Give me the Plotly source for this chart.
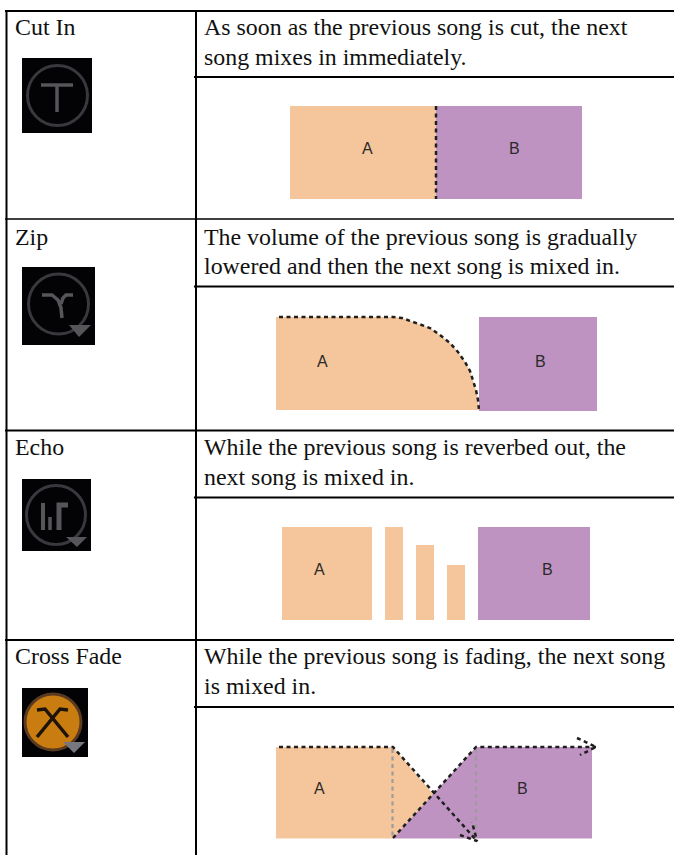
import plotly.graph_objects as go

PEACH = "#f5c69b"
PURPLE = "#be93c1"
DARK = "#1f1f1f"
GRAY = "#9c9c9c"

# Grid lines of the table: x0, x1, y, width
grid_h = [[5, 674, 11, 2], [5, 674, 219, 1.5], [5, 674, 430.5, 2], [5, 674, 640, 2],
          [194, 674, 77, 2], [194, 674, 286.5, 2], [194, 674, 497.5, 2], [194, 674, 707, 2]]
grid_v = [[6.5, 11, 855], [196, 11, 855]]

# Cell texts
names = ["Cut In", "Zip", "Echo", "Cross Fade"]
name_y = [27, 237, 447, 656]
desc_1 = ["As soon as the previous song is cut, the next",
          "The volume of the previous song is gradually",
          "While the previous song is reverbed out, the",
          "While the previous song is fading, the next song"]
desc_2 = ["song mixes in immediately.",
          "lowered and then the next song is mixed in.",
          "next song is mixed in.",
          "is mixed in."]
desc_y1 = [27, 237, 447, 656]
desc_y2 = [57, 266, 477, 686]

# Filled diagram areas
zip_x = [393, 402, 410, 420, 430, 440, 450, 458, 465, 470, 473, 476, 478, 479]
zip_y = [317, 318, 321, 324, 328, 335, 343, 352, 362, 371, 380, 390, 400, 410]
peach_polys = [
    ([290, 436, 436, 290], [106, 106, 199, 199]),
    ([276] + zip_x + [276], [317] + zip_y + [410]),
    ([282, 372, 372, 282], [527, 527, 620, 620]),
    ([385, 403, 403, 385], [527, 527, 620, 620]),
    ([416, 434, 434, 416], [545, 545, 620, 620]),
    ([447, 465, 465, 447], [565, 565, 620, 620]),
    ([276, 393, 434, 393, 276], [747, 747, 795, 838.5, 838.5]),
]
purple_polys = [
    ([436, 582, 582, 436], [106, 106, 199, 199]),
    ([479, 597, 597, 479], [317, 317, 411, 411]),
    ([478, 590, 590, 478], [527, 527, 620, 620]),
    ([393, 476, 592, 592, 393], [838.5, 747, 747, 838.5, 838.5]),
]

# Dotted curves on the diagrams
dark_lines = [
    ([436, 436], [106, 199]),
    ([279] + zip_x, [317] + zip_y),
    ([279, 393, 477], [747, 747, 841]),
    ([393, 476, 596], [838, 747, 747]),
    ([460, 477, 472], [835, 841, 822]),
    ([577, 596, 580], [738, 747, 755]),
]
gray_lines = [([392.5, 392.5], [749, 836]), ([476, 476], [749, 836])]

# Diagram labels
label_x = [367, 514, 322, 540, 319, 547, 319, 522]
label_y = [148, 148, 361, 361, 569, 569, 788, 788]
label_t = ["A", "B", "A", "B", "A", "B", "A", "B"]

# Icons
icon_boxes = [([22, 92], [58, 133]), ([22, 95], [267, 345]), ([22, 91], [479, 551]), ([22, 88], [688, 757])]
circle_x = [57.5, 58.5, 56, 53]
circle_y = [95.5, 304, 515, 722]
circle_size = [60, 60, 59, 56]
circle_line = ["#38383d", "#38383d", "#38383d", "#5a3a20"]
circle_fill = ["rgba(0,0,0,0)", "rgba(0,0,0,0)", "rgba(0,0,0,0)", "#c97c10"]
icon_strokes = [
    ([41, 73], [85, 85]), ([57, 57], [85, 112]),
    ([42, 52, 58, 61, 62], [295, 295, 300, 308, 318]), ([61, 63, 66, 73], [304, 298, 295, 295]),
    ([43, 43], [503, 530]), ([50, 50], [517, 530]), ([59, 59, 68], [530, 505, 505]),
    ([37, 45, 68], [710, 709, 737]), ([68, 60, 37], [710, 709, 737]),
]
stroke_color = ["#56565a"] * 7 + ["#1c1408"] * 2
stroke_width = [3.5, 3.5, 3.5, 3.5, 4, 3.5, 5, 3.5, 3.5]
icon_tris = [
    ([69, 91, 79], [325, 325, 337], "#56565a"),
    ([66, 87, 77], [537, 537, 547], "#56565a"),
    ([63, 85, 74], [742, 742, 753], "#77787f"),
]

fig = go.Figure()

def poly(xs, ys, color):
    fig.add_trace(go.Scatter(x=list(xs), y=list(ys), mode="lines", fill="toself", fillcolor=color,
                             line=dict(width=0), hoverinfo="skip"))

for xs, ys in peach_polys:
    poly(xs, ys, PEACH)
for xs, ys in purple_polys:
    poly(xs, ys, PURPLE)
for xs, ys in gray_lines:
    fig.add_trace(go.Scatter(x=xs, y=ys, mode="lines", line=dict(color=GRAY, width=2.2, dash="4px 3.5px")))
for xs, ys in dark_lines:
    fig.add_trace(go.Scatter(x=xs, y=ys, mode="lines", line=dict(color=DARK, width=2.5, dash="4px 3.5px")))

for x0, x1, y, w in grid_h:
    fig.add_trace(go.Scatter(x=[x0, x1], y=[y, y], mode="lines", line=dict(color="black", width=w)))
for x, y0, y1 in grid_v:
    fig.add_trace(go.Scatter(x=[x, x], y=[y0, y1], mode="lines", line=dict(color="black", width=2)))

for (xr, yr) in icon_boxes:
    poly([xr[0], xr[1], xr[1], xr[0]], [yr[0], yr[0], yr[1], yr[1]], "#030306")
fig.add_trace(go.Scatter(x=circle_x, y=circle_y, mode="markers",
                         marker=dict(size=circle_size, color=circle_fill, opacity=1,
                                     line=dict(color=circle_line, width=3))))
for (xs, ys), c, w in zip(icon_strokes, stroke_color, stroke_width):
    fig.add_trace(go.Scatter(x=xs, y=ys, mode="lines", line=dict(color=c, width=w)))
for xs, ys, c in icon_tris:
    poly(xs, ys, c)

SERIF = "Liberation Serif"
def text(x, y, s, size, fam=SERIF, anchor="left", color="#111111"):
    fig.add_annotation(x=x, y=y, text=s, showarrow=False, xanchor=anchor, yanchor="middle",
                       font=dict(family=fam, size=size, color=color), xref="x", yref="y",
                       borderpad=0, borderwidth=0)

for n, y in zip(names, name_y):
    text(15, y, n, 23.9)
for t, y in zip(desc_1, desc_y1):
    text(204, y, t, 23.9)
for t, y in zip(desc_2, desc_y2):
    text(204, y, t, 23.9)
for x, y, t in zip(label_x, label_y, label_t):
    text(x, y, t, 16, fam="Liberation Sans", anchor="center", color="#2a2a2a")

fig.update_layout(width=674, height=855, margin=dict(l=0, r=0, t=0, b=0), showlegend=False,
                  plot_bgcolor="white", paper_bgcolor="white",
                  xaxis=dict(range=[0, 674], visible=False, fixedrange=True),
                  yaxis=dict(range=[855, 0], visible=False, fixedrange=True))
fig.write_html("out.html", config={"displayModeBar": False},
               post_script="document.body.style.margin='0';document.body.style.overflow='hidden';")
